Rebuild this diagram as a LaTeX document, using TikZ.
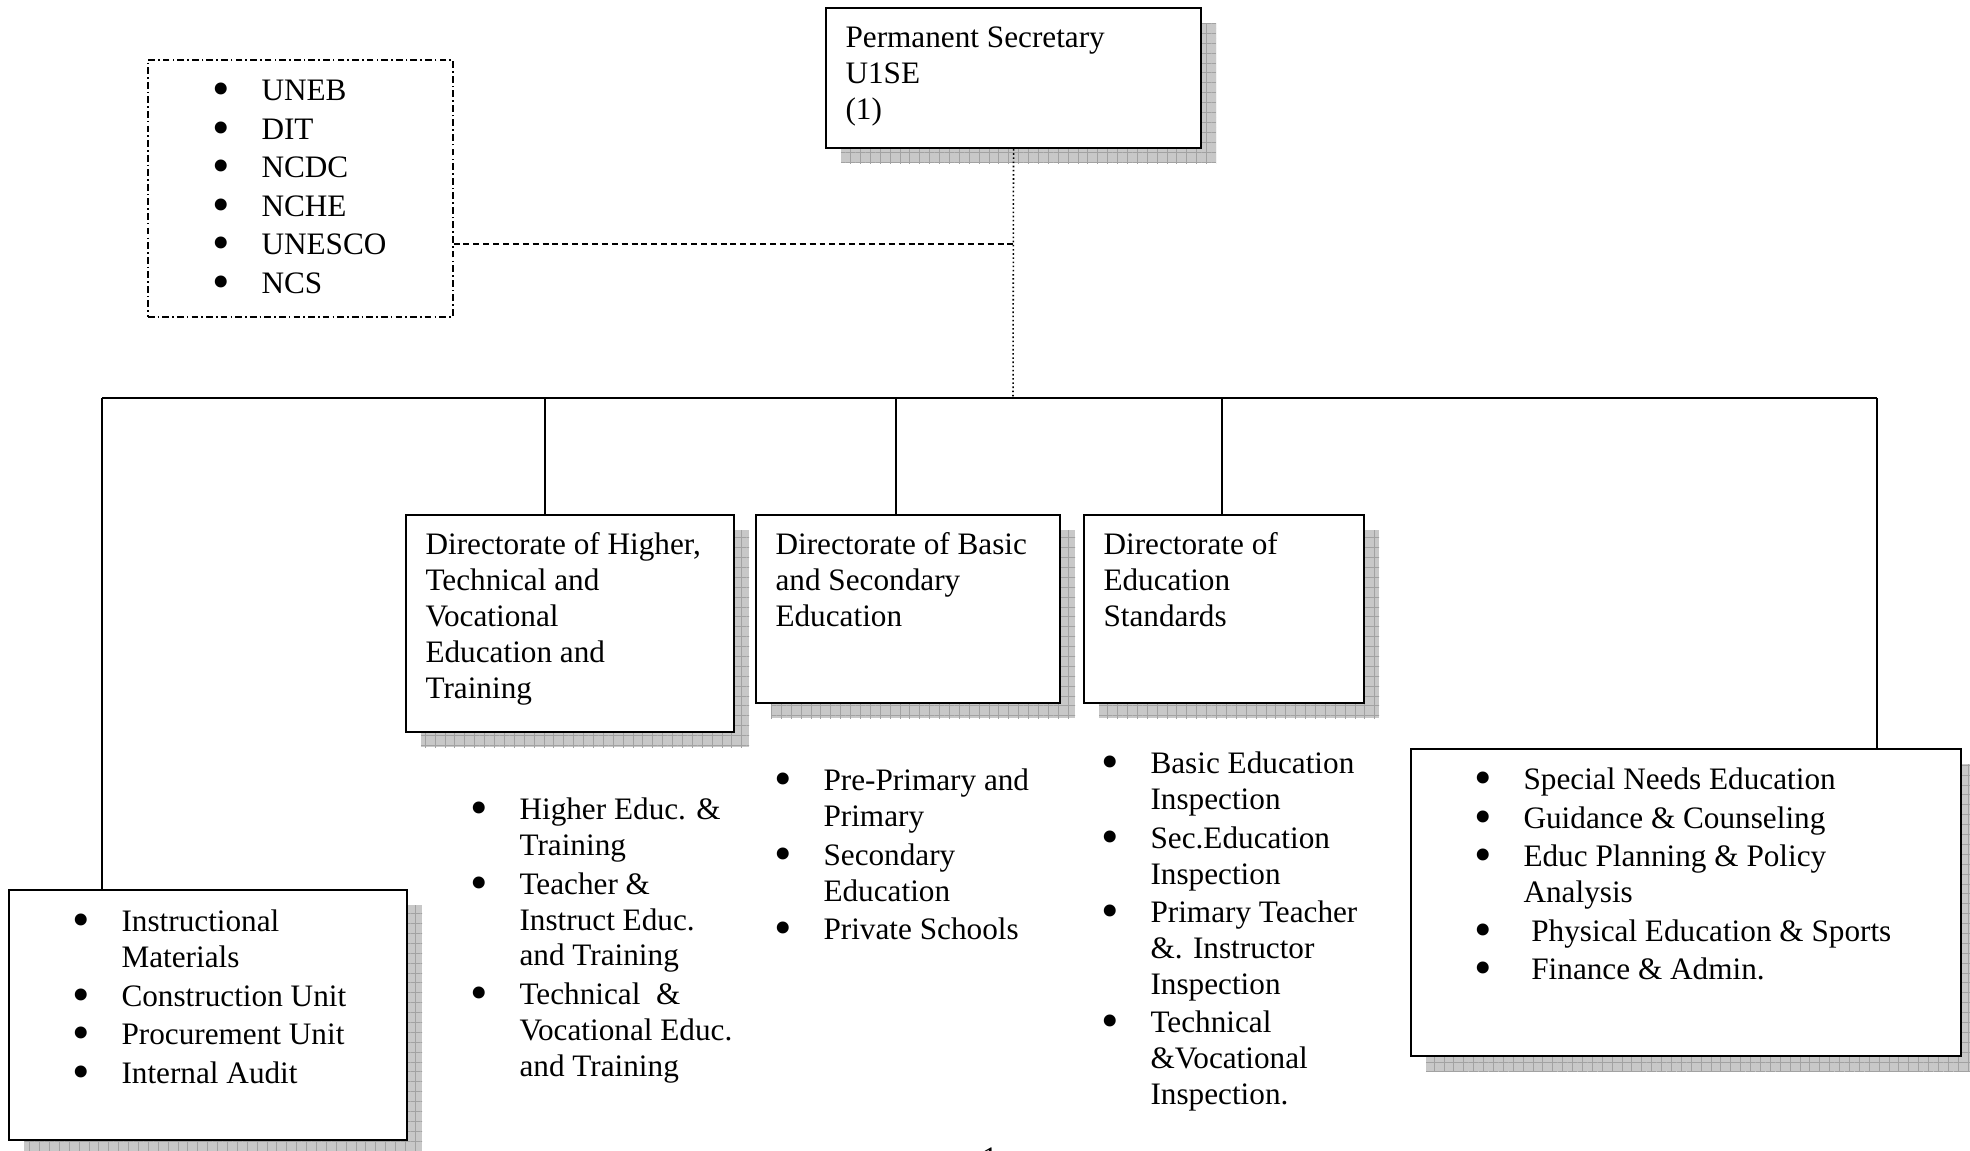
\documentclass[tikz,border=0pt]{standalone}
\usepackage{fontspec}
\setmainfont{Liberation Serif}
\usetikzlibrary{patterns.meta,shadows}
\definecolor{ShadowGray}{HTML}{C8C8C8}
\definecolor{GridGray}{HTML}{A2A2A2}
\newlength\unitpx
\setlength\unitpx{0.0135cm}
\newcommand\bul{\llap{\raisebox{-1.9pt}{\scalebox{1.6}{\textbullet}}\hspace{12.3pt}}}
\newcommand\itemgap{\\[1pt]}

\tikzset{
    gridshadow/.style={
        general shadow={shadow xshift=15\unitpx, shadow yshift=-15\unitpx, draw=none, fill=ShadowGray},
        general shadow={shadow xshift=15\unitpx, shadow yshift=-15\unitpx, draw=none,
            pattern={Hatch[angle=0, distance=3.8pt, line width=0.35pt]}, pattern color=GridGray}},
    unitbox/.style={draw, line width=0.8pt, fill=white, anchor=north west, inner sep=0pt, gridshadow},
    unittext/.style={anchor=north west, inner sep=0pt, align=left},
    link/.style={line width=0.6pt}
}

\begin{document}
\begin{tikzpicture}[x=\unitpx, y=-\unitpx, font=\fontsize{12}{13.8}\selectfont]
    \useasboundingbox (0,0) rectangle (1970,1151);

    % permanent secretary and partner bodies
    \node[unitbox, minimum width=375*\unitpx, minimum height=140*\unitpx] (ps) at (825,7) {};
    \node[unittext] (pstext) at ([shift={(20,15)}]ps.north west) {\strut Permanent Secretary\\U1SE\\(1)};
    \node[draw, link, dash pattern=on 2.6pt off 1.2pt on 0.6pt off 1.2pt, anchor=north west, inner sep=0pt,
        minimum width=305*\unitpx, minimum height=257*\unitpx] (bodies) at (147,59) {};
    \node[unittext] (bodiestext) at (261,75) {\strut\bul UNEB\itemgap\bul DIT\itemgap\bul NCDC\itemgap
        \bul NCHE\itemgap\bul UNESCO\itemgap\bul NCS};

    % directorates
    \node[unitbox, minimum width=328*\unitpx, minimum height=217*\unitpx] (higher) at (405,514) {};
    \node[unittext] (highertext) at ([shift={(20,15)}]higher.north west)
        {\strut Directorate of Higher,\\Technical and\\Vocational\\Education and\\Training};
    \node[unitbox, minimum width=304*\unitpx, minimum height=188*\unitpx] (basic) at (755,514) {};
    \node[unittext] (basictext) at ([shift={(20,15)}]basic.north west)
        {\strut Directorate of Basic\\and Secondary\\Education};
    \node[unitbox, minimum width=280*\unitpx, minimum height=188*\unitpx] (standards) at (1083,514) {};
    \node[unittext] (standardstext) at ([shift={(20,15)}]standards.north west)
        {\strut Directorate of\\Education\\Standards};

    % departments
    \node[unittext] (higherlist) at (519,794) {\strut\bul Higher Educ. \&\\Training\itemgap
        \bul Teacher \&\\Instruct Educ.\\and Training\itemgap\bul Technical~ \&\\Vocational Educ.\\and Training};
    \node[unittext] (basiclist) at (823,765) {\strut\bul Pre-Primary and\\Primary\itemgap
        \bul Secondary\\Education\itemgap\bul Private Schools};
    \node[unittext] (standardslist) at (1150,748) {\strut\bul Basic Education\\Inspection\itemgap
        \bul Sec.Education\\Inspection\itemgap\bul Primary Teacher\\\&. Instructor\\Inspection\itemgap
        \bul Technical\\\&Vocational\\Inspection.};

    \node[unitbox, minimum width=398*\unitpx, minimum height=250*\unitpx] (support) at (8,889) {};
    \node[unittext] (supportlist) at (121,906) {\strut\bul Instructional\\Materials\itemgap
        \bul Construction Unit\itemgap\bul Procurement Unit\itemgap\bul Internal Audit};
    \node[unitbox, minimum width=550*\unitpx, minimum height=307*\unitpx] (special) at (1410,748) {};
    \node[unittext] (speciallist) at (1523,764) {\strut\bul Special Needs Education\itemgap
        \bul Guidance \& Counseling\itemgap\bul Educ Planning \& Policy\\Analysis\itemgap
        \bul\hspace*{3pt}Physical Education \& Sports\itemgap\bul\hspace*{3pt}Finance \& Admin.};

    % connectors
    \coordinate (hub) at (1013,398);
    \coordinate (tap) at (1013,244);
    \draw[link, densely dotted] (ps.south) -- (hub);
    \draw[link, dash pattern=on 2.3pt off 1.5pt] (bodies.east |- tap) -- (tap);
    \coordinate (busleft) at (102,398);
    \coordinate (busright) at (1877,398);
    \draw[link] (busleft) -- (busright);
    \foreach \x/\unit in {102/support, 545/higher, 896/basic, 1222/standards, 1877/special} {
        \coordinate (drop) at (\x,398);
        \draw[link] (drop) -- (drop |- \unit.north);
    }

    \node[anchor=north, inner sep=0pt] (pagenum) at (990,1147) {1};
\end{tikzpicture}
\end{document}
